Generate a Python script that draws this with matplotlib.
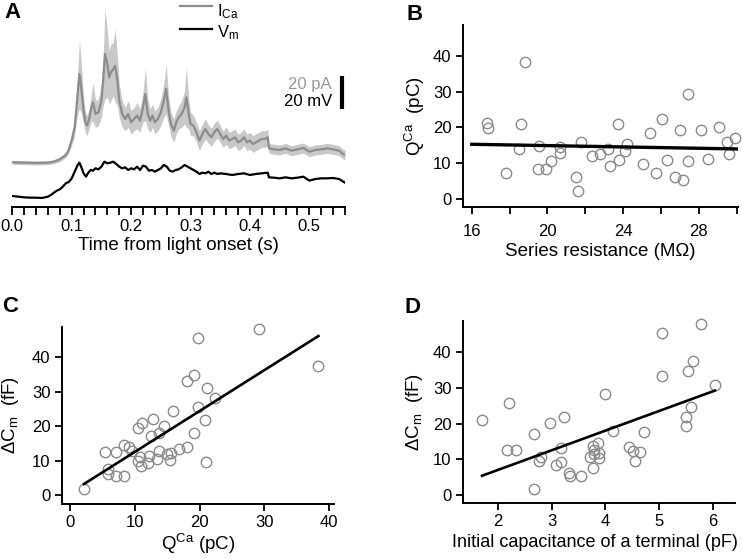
import numpy as np
import matplotlib
matplotlib.use("Agg")
import matplotlib.pyplot as plt
from matplotlib.ticker import MultipleLocator, FixedLocator

plt.rcParams['font.family'] = ['Liberation Sans', 'DejaVu Sans']
plt.rcParams['mathtext.fontset'] = 'custom'
plt.rcParams['mathtext.rm'] = 'Liberation Sans'
plt.rcParams['mathtext.it'] = 'Liberation Sans:italic'
plt.rcParams['mathtext.bf'] = 'Liberation Sans:bold'

# ---------------- Panel A data ----------------
t_I = [0.0, 0.02, 0.04, 0.06, 0.07, 0.08, 0.09, 0.095, 0.10, 0.105, 0.108, 0.111, 0.113, 0.116,
       0.12, 0.123, 0.126, 0.13, 0.133, 0.136, 0.14, 0.145, 0.15, 0.153, 0.156, 0.16, 0.163,
       0.166, 0.17, 0.173, 0.177, 0.18, 0.185, 0.19, 0.195, 0.20, 0.205, 0.21, 0.215, 0.22,
       0.224, 0.228, 0.232, 0.236, 0.24, 0.245, 0.25, 0.255, 0.259, 0.263, 0.267, 0.272, 0.276,
       0.28, 0.285, 0.29, 0.293, 0.297, 0.30, 0.305, 0.31, 0.315, 0.32, 0.325, 0.33, 0.335,
       0.34, 0.345, 0.35, 0.355, 0.36, 0.365, 0.37, 0.375, 0.38, 0.385, 0.39, 0.395, 0.40,
       0.405, 0.41, 0.415, 0.42, 0.425, 0.43, 0.432, 0.44, 0.45, 0.46, 0.47, 0.48, 0.49, 0.50,
       0.51, 0.52, 0.53, 0.54, 0.55, 0.555, 0.56]
I_mean = [0.0, -0.2, -0.4, -0.2, 0.4, 1.8, 4.4, 7.4, 13.4, 21.0, 33.0, 45.0, 53.0, 45.0,
          31.0, 24.0, 22.0, 27.0, 33.0, 36.0, 29.0, 30.0, 37.0, 49.0, 65.0, 59.0, 51.0,
          54.0, 56.0, 58.0, 49.0, 37.0, 29.0, 26.0, 29.0, 24.0, 26.0, 28.0, 25.0, 33.0,
          41.0, 29.0, 25.0, 28.0, 24.0, 26.0, 30.0, 37.0, 44.0, 31.0, 23.0, 19.0, 24.0,
          27.0, 29.0, 33.0, 39.0, 29.0, 23.0, 22.0, 18.0, 13.0, 17.0, 20.0, 17.0, 15.0,
          18.0, 20.0, 17.0, 14.0, 16.0, 13.0, 14.0, 15.0, 12.0, 13.0, 15.0, 12.0, 13.0,
          11.0, 12.0, 13.0, 14.0, 14.0, 15.0, 8.4, 7.8, 7.4, 8.4, 7.0, 7.8, 8.6, 6.4,
          7.4, 7.8, 8.4, 7.8, 7.0, 5.4, 4.4]
I_sem = [1.2, 1.2, 1.2, 1.2, 1.2, 1.3, 1.5, 2.0, 3.0, 5.0, 8.0, 15.0, 21.0, 15.0,
         8.0, 6.0, 6.0, 6.0, 8.0, 12.0, 8.0, 8.0, 10.0, 15.0, 27.0, 20.0, 16.0,
         17.0, 16.0, 22.0, 15.0, 10.0, 8.0, 7.0, 8.0, 7.0, 7.0, 8.0, 7.0, 9.0,
         16.0, 9.0, 7.0, 7.0, 7.0, 7.0, 8.0, 10.0, 15.0, 9.0, 7.0, 7.0, 7.0,
         7.0, 8.0, 10.0, 18.0, 9.0, 7.0, 6.0, 6.0, 6.0, 6.0, 6.0, 5.5, 5.5,
         5.5, 5.5, 5.0, 5.0, 5.0, 5.0, 5.0, 5.0, 5.0, 5.0, 5.0, 5.0, 5.0,
         5.0, 5.0, 5.0, 5.0, 5.0, 5.0, 3.0, 3.0, 3.0, 3.0, 3.0, 3.0, 3.0, 3.0,
         3.0, 3.0, 3.0, 3.0, 3.0, 3.0, 3.0]

t_V = [0.0, 0.01, 0.02, 0.03, 0.04, 0.05, 0.06, 0.065, 0.07, 0.075, 0.08, 0.085, 0.09, 0.095,
       0.10, 0.105, 0.11, 0.113, 0.117, 0.12, 0.124, 0.128, 0.132, 0.136, 0.14, 0.145, 0.15,
       0.155, 0.16, 0.165, 0.17, 0.175, 0.18, 0.185, 0.19, 0.195, 0.20, 0.205, 0.21, 0.215,
       0.22, 0.225, 0.23, 0.235, 0.24, 0.245, 0.25, 0.255, 0.26, 0.265, 0.27, 0.275, 0.28,
       0.285, 0.29, 0.295, 0.30, 0.305, 0.31, 0.315, 0.32, 0.325, 0.33, 0.335, 0.34, 0.345,
       0.35, 0.36, 0.37, 0.38, 0.39, 0.40, 0.41, 0.42, 0.43, 0.432, 0.44, 0.45, 0.46, 0.47,
       0.48, 0.49, 0.50, 0.51, 0.52, 0.53, 0.54, 0.55, 0.56]
V_mean = [0.4, 0.0, -0.4, -0.6, -0.6, -0.8, 0.0, 1.0, 2.4, 3.6, 4.4, 6.0, 8.0, 8.8,
          11.0, 15.0, 19.0, 20.4, 17.0, 14.0, 12.0, 14.4, 16.0, 15.6, 17.0, 16.4, 18.0,
          21.0, 20.0, 20.4, 21.0, 19.6, 18.0, 17.0, 17.6, 16.0, 17.0, 16.4, 18.0, 16.0,
          18.6, 18.0, 15.6, 16.0, 15.0, 16.0, 17.0, 19.0, 18.0, 15.6, 15.0, 16.0, 16.4,
          17.6, 19.0, 18.0, 17.0, 16.0, 15.0, 13.6, 14.4, 14.0, 15.0, 13.6, 14.4, 13.6,
          14.0, 13.6, 13.0, 13.6, 14.0, 13.0, 13.6, 14.0, 14.4, 11.6, 11.4, 11.0, 11.6, 11.0,
          11.4, 12.0, 9.6, 10.6, 11.0, 11.0, 11.2, 10.6, 8.4]

# ---------------- Panel B data ----------------
rs_B = [16.79, 16.85, 18.82, 18.59, 18.50, 17.80, 19.54, 19.52, 19.95, 20.18, 20.69, 20.67,
        21.80, 21.50, 21.64, 22.34, 22.80, 23.19, 23.31, 23.75, 23.77, 24.09, 24.23, 25.07,
        25.43, 25.74, 26.08, 26.34, 26.75, 27.17, 27.00, 27.41, 27.45, 28.12, 28.51, 29.06,
        29.52, 29.60, 29.92]
q_B = [21.3, 19.9, 38.4, 20.9, 13.9, 7.3, 14.9, 8.5, 8.5, 10.6, 14.6, 12.9,
       16.0, 6.2, 2.3, 12.1, 12.5, 13.9, 9.2, 21.1, 10.8, 13.4, 15.5, 9.9,
       18.4, 7.4, 22.5, 10.9, 6.1, 5.4, 19.4, 29.4, 10.6, 19.3, 11.1, 20.0,
       15.8, 12.6, 17.0]
fitB_x = [16.0, 30.0]
fitB_y = [15.3, 14.0]

# ---------------- Panel C data ----------------
q_C = [2.16, 5.35, 5.92, 5.92, 7.16, 7.05, 8.29, 8.29, 9.10, 9.60, 10.50, 11.07, 10.45,
       10.80, 10.90, 12.00, 12.20, 12.50, 12.87, 13.40, 13.80, 13.80, 14.57, 14.90, 15.40,
       15.65, 15.86, 16.90, 18.10, 18.07, 19.15, 19.20, 19.70, 19.77, 20.90, 21.00, 21.16,
       22.40, 29.24, 38.35]
dc_C = [1.7, 12.4, 7.6, 6.1, 12.5, 5.4, 5.4, 14.5, 13.9, 12.9, 19.3, 21.0, 9.9,
        11.1, 8.5, 9.4, 11.4, 17.2, 21.9, 10.4, 17.9, 12.7, 20.1, 11.9, 10.2,
        12.1, 24.5, 13.2, 13.8, 33.1, 18.0, 34.7, 45.5, 25.6, 21.8, 9.7, 30.9,
        28.0, 48.0, 37.4]
fitC_x = [2.16, 38.35]
fitC_y = [3.2, 46.1]

# ---------------- Panel D data ----------------
cap_D = [1.70, 2.16, 2.21, 2.33, 2.67, 2.67, 2.77, 2.80, 2.97, 3.07, 3.17, 3.17, 3.22,
         3.32, 3.34, 3.54, 3.71, 3.77, 3.77, 3.78, 3.79, 3.87, 3.88, 3.88, 3.99, 4.15,
         4.44, 4.52, 4.56, 4.65, 4.71, 5.05, 5.05, 5.50, 5.50, 5.60, 5.54, 5.63, 5.78, 6.04]
dc_D = [21.0, 12.6, 25.8, 12.5, 1.8, 17.2, 9.5, 10.7, 20.1, 8.3, 9.3, 13.1, 21.9,
        6.2, 5.4, 5.4, 10.7, 7.7, 13.8, 12.6, 11.5, 14.6, 11.8, 10.3, 28.2, 18.0,
        13.6, 12.4, 9.6, 12.0, 17.8, 45.5, 33.3, 19.3, 21.8, 24.6, 34.8, 37.5, 48.1, 31.0]
fitD_x = [1.70, 6.04]
fitD_y = [5.4, 29.3]

I_offset = 20.6
I_color = '#8c8c8c'
band_color = '#c9c9c9'
pt_color = '#8a8a8a'

W, H = 742, 559
fig = plt.figure(figsize=(W / 100, H / 100), dpi=100)

def rect(l, r, t, b):
    return [l / W, 1 - b / H, (r - l) / W, (b - t) / H]

TICK = 12
LAB = 13.5

def style(ax):
    for s in ['top', 'right']:
        ax.spines[s].set_visible(False)
    for s in ['left', 'bottom']:
        ax.spines[s].set_linewidth(1.4)
    ax.tick_params(which='both', direction='out', length=5, width=1.3, labelsize=TICK, pad=3)

# ---- Panel A ----
axA = fig.add_axes(rect(12.3, 345.0, 0, 207))
tI = np.array(t_I); Im = np.array(I_mean) + I_offset; Is = np.array(I_sem)
axA.fill_between(tI, Im - Is, Im + Is, color=band_color, lw=0)
axA.plot(tI, Im, color=I_color, lw=1.6)
axA.plot(t_V, V_mean, color='black', lw=1.6)
axA.set_xlim(0, 0.56)
axA.set_ylim(-6.2, 118)
for s in ['top', 'right', 'left']:
    axA.spines[s].set_visible(False)
axA.spines['bottom'].set_linewidth(1.4)
axA.set_yticks([])
axA.xaxis.set_major_locator(FixedLocator([0.0, 0.1, 0.2, 0.3, 0.4, 0.5]))
axA.xaxis.set_minor_locator(MultipleLocator(0.02))
axA.set_xticklabels(['0.0', '0.1', '0.2', '0.3', '0.4', '0.5'])
axA.tick_params(which='both', direction='out', length=5.5, width=1.3, labelsize=TICK, pad=3)
axA.set_xlabel('Time from light onset (s)', fontsize=LAB, labelpad=2)
# scale bar
axA.plot([0.5545, 0.5545], [52.6, 72.6], color='black', lw=3, clip_on=False, solid_capstyle='butt')
axA.text(0.538, 67.6, '20 pA', color='#999999', fontsize=TICK, ha='right', va='center')
axA.text(0.538, 57.4, '20 mV', color='black', fontsize=TICK, ha='right', va='center')
# legend
axA.plot([0.282, 0.336], [114.6, 114.6], color=I_color, lw=1.6, clip_on=False)
axA.plot([0.282, 0.336], [100.6, 100.6], color='black', lw=1.6, clip_on=False)
axA.text(0.345, 108.2, r'I$_{\mathrm{Ca}}$', fontsize=TICK, va='baseline', ha='left')
axA.text(0.345, 95.6, r'V$_{\mathrm{m}}$', fontsize=TICK, va='baseline', ha='left')

# ---- Panel B ----
axB = fig.add_axes(rect(462.7, 737.7, 25, 207.3))
style(axB)
axB.tick_params(axis='x', which='both', pad=7)
axB.plot(rs_B, q_B, 'o', mfc='none', mec=pt_color, ms=7.5, mew=1.0, clip_on=False)
axB.plot(fitB_x, fitB_y, color='black', lw=2.4)
axB.set_xlim(15.52, 30.06)
axB.set_ylim(-2.33, 48.67)
axB.xaxis.set_major_locator(FixedLocator([16, 20, 24, 28]))
axB.xaxis.set_minor_locator(FixedLocator([18, 22, 26, 30]))
axB.set_yticks([0, 10, 20, 30, 40])
axB.set_xlabel('Series resistance (M\u03a9)', fontsize=LAB, labelpad=3)
axB.set_ylabel(r'Q$^{\mathrm{Ca}}$  (pC)', fontsize=LAB, labelpad=4)

# ---- Panel C ----
axC = fig.add_axes(rect(61.7, 334.3, 326.7, 504))
style(axC)
axC.plot(q_C, dc_C, 'o', mfc='none', mec=pt_color, ms=7.5, mew=1.0, clip_on=False)
axC.plot(fitC_x, fitC_y, color='black', lw=1.9)
axC.set_xlim(-1.28, 40.8)
axC.set_ylim(-2.6, 48.8)
axC.set_xticks([0, 10, 20, 30, 40])
axC.set_yticks([0, 10, 20, 30, 40])
axC.set_xlabel(r'Q$^{\mathrm{Ca}}$ (pC)', fontsize=LAB, labelpad=1)
axC.set_ylabel(r'$\Delta$C$_{\mathrm{m}}$  (fF)', fontsize=LAB, labelpad=8)

# ---- Panel D ----
axD = fig.add_axes(rect(462.7, 735.3, 320.7, 503))
style(axD)
axD.plot(cap_D, dc_D, 'o', mfc='none', mec=pt_color, ms=7.5, mew=1.0, clip_on=False)
axD.plot(fitD_x, fitD_y, color='black', lw=1.9)
axD.set_xlim(1.34, 6.42)
axD.set_ylim(-2.24, 48.9)
axD.set_xticks([2, 3, 4, 5, 6])
axD.set_yticks([0, 10, 20, 30, 40])
axD.set_xlabel('Initial capacitance of a terminal (pF)', fontsize=13)
axD.xaxis.set_label_coords((595 - 462.7) / (735.3 - 462.7), -(534 - 503) / (503 - 320.7))
axD.xaxis.label.set_va('top')
axD.set_ylabel(r'$\Delta$C$_{\mathrm{m}}$  (fF)', fontsize=LAB, labelpad=6)

# panel letters
for lab, x, y in [('A', 4, 2), ('B', 406, 4), ('C', 2, 296), ('D', 405, 297)]:
    fig.text(x / W, 1 - y / H, lab, fontsize=16, fontweight='bold', ha='left', va='top')

fig.savefig('out.png', dpi=100)
